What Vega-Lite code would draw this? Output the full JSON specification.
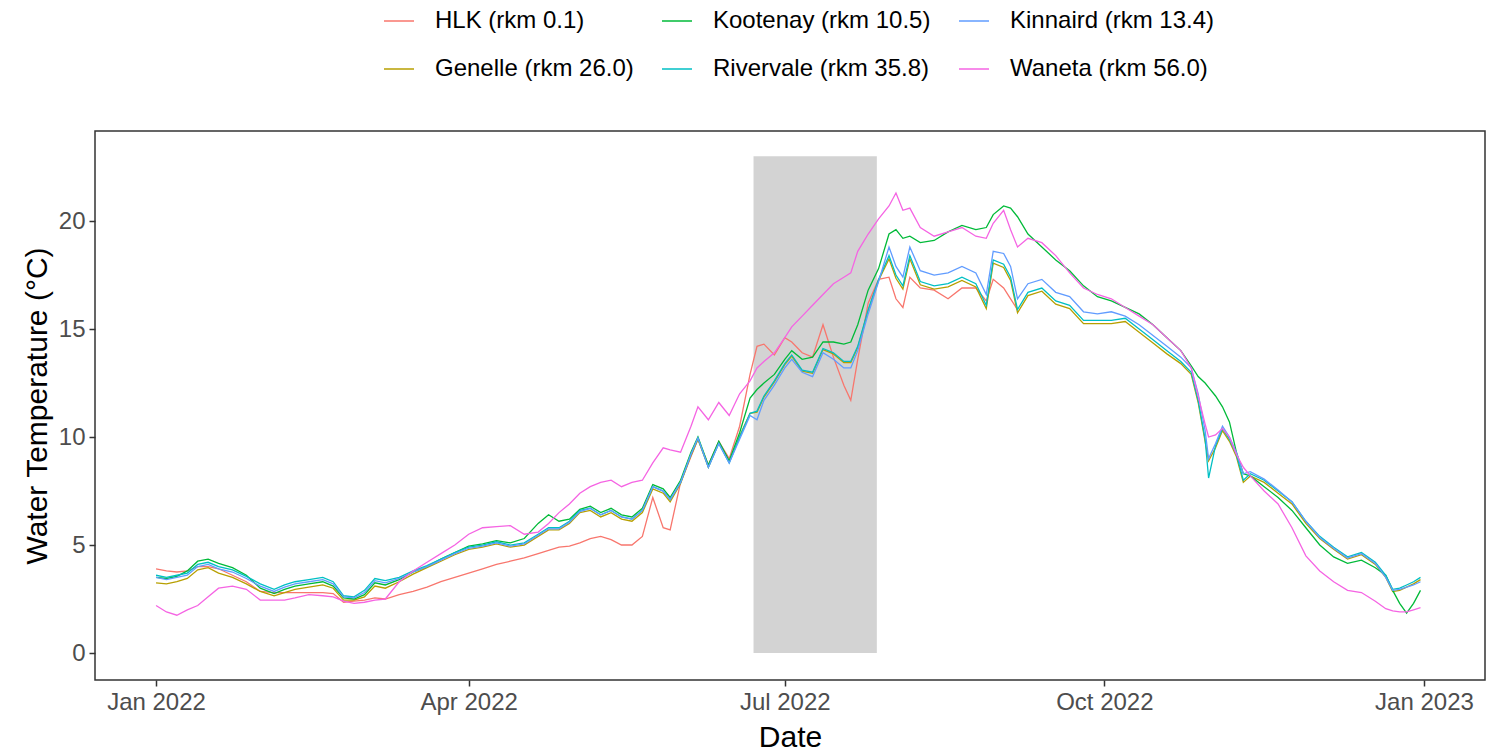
{
"$schema":"https://vega.github.io/schema/vega-lite/v6.json",
"width":1390,"height":549,
"autosize":{"type":"none"},
"padding":{"left":95,"top":131,"right":1,"bottom":72},
"background":"white",
"config":{
"font":"Liberation Sans",
"view":{"stroke":"#333333","strokeWidth":1.5},
"axis":{"grid":false,"domain":false,"tickColor":"#333333","tickWidth":1.5,"tickSize":6,"labelFont":"Liberation Sans","labelFontSize":24,"labelColor":"#4D4D4D","labelPadding":4,"titleFont":"Liberation Sans","titleFontSize":30,"titleFontWeight":"normal","titleColor":"#000000"}
},
"layer":[
{"data":{"values":[{"start":"2022-06-22","end":"2022-07-27T12:00:00","lo":0,"hi":23}]},
"mark":{"type":"rect","color":"#D3D3D3"},
"encoding":{
"x":{"field":"start","type":"temporal","title":"Date","scale":{"domain":[{"year":2021,"month":12,"date":14,"hours":10,"minutes":20},{"year":2023,"month":1,"date":18,"hours":13,"minutes":40}]},"axis":{"values":[{"year":2022,"month":1,"date":1},{"year":2022,"month":4,"date":1},{"year":2022,"month":7,"date":1},{"year":2022,"month":10,"date":1},{"year":2023,"month":1,"date":1}],"format":"%b %Y","titlePadding":8}},
"x2":{"field":"end"},
"y":{"field":"lo","type":"quantitative","title":"Water Temperature (°C)","scale":{"domain":[-1.25,24.17],"nice":false,"zero":false},"axis":{"values":[0,5,10,15,20],"titlePadding":6}},
"y2":{"field":"hi"}}},
{"data":{"values":[
{"d":"2022-01-01","s":"HLK","t":3.9},{"d":"2022-01-04","s":"HLK","t":3.8},{"d":"2022-01-07","s":"HLK","t":3.75},{"d":"2022-01-10","s":"HLK","t":3.8},{"d":"2022-01-13","s":"HLK","t":4.0},{"d":"2022-01-16","s":"HLK","t":4.0},{"d":"2022-01-19","s":"HLK","t":3.9},{"d":"2022-01-23","s":"HLK","t":3.6},{"d":"2022-01-27","s":"HLK","t":3.3},{"d":"2022-01-31","s":"HLK","t":2.85},{"d":"2022-02-04","s":"HLK","t":2.8},{"d":"2022-02-07","s":"HLK","t":2.8},{"d":"2022-02-10","s":"HLK","t":2.8},{"d":"2022-02-14","s":"HLK","t":2.8},{"d":"2022-02-18","s":"HLK","t":2.8},{"d":"2022-02-21","s":"HLK","t":2.75},{"d":"2022-02-24","s":"HLK","t":2.35},{"d":"2022-02-27","s":"HLK","t":2.4},{"d":"2022-03-02","s":"HLK","t":2.45},{"d":"2022-03-05","s":"HLK","t":2.55},{"d":"2022-03-08","s":"HLK","t":2.5},{"d":"2022-03-12","s":"HLK","t":2.7},{"d":"2022-03-16","s":"HLK","t":2.85},{"d":"2022-03-20","s":"HLK","t":3.05},{"d":"2022-03-24","s":"HLK","t":3.3},{"d":"2022-03-28","s":"HLK","t":3.5},{"d":"2022-04-01","s":"HLK","t":3.7},{"d":"2022-04-05","s":"HLK","t":3.9},{"d":"2022-04-09","s":"HLK","t":4.1},{"d":"2022-04-13","s":"HLK","t":4.25},{"d":"2022-04-17","s":"HLK","t":4.4},{"d":"2022-04-21","s":"HLK","t":4.6},{"d":"2022-04-24","s":"HLK","t":4.75},{"d":"2022-04-27","s":"HLK","t":4.9},{"d":"2022-04-30","s":"HLK","t":4.95},{"d":"2022-05-03","s":"HLK","t":5.1},{"d":"2022-05-06","s":"HLK","t":5.3},{"d":"2022-05-09","s":"HLK","t":5.4},{"d":"2022-05-12","s":"HLK","t":5.25},{"d":"2022-05-15","s":"HLK","t":5.0},{"d":"2022-05-18","s":"HLK","t":5.0},{"d":"2022-05-21","s":"HLK","t":5.4},{"d":"2022-05-24","s":"HLK","t":7.2},{"d":"2022-05-27","s":"HLK","t":5.8},{"d":"2022-05-29","s":"HLK","t":5.7},{"d":"2022-06-01","s":"HLK","t":7.9},{"d":"2022-06-04","s":"HLK","t":9.1},{"d":"2022-06-06","s":"HLK","t":9.9},{"d":"2022-06-09","s":"HLK","t":8.7},{"d":"2022-06-12","s":"HLK","t":9.8},{"d":"2022-06-15","s":"HLK","t":9.0},{"d":"2022-06-18","s":"HLK","t":10.5},{"d":"2022-06-21","s":"HLK","t":12.9},{"d":"2022-06-23","s":"HLK","t":14.2},{"d":"2022-06-25","s":"HLK","t":14.3},{"d":"2022-06-28","s":"HLK","t":13.8},{"d":"2022-07-01","s":"HLK","t":14.6},{"d":"2022-07-03","s":"HLK","t":14.4},{"d":"2022-07-06","s":"HLK","t":13.9},{"d":"2022-07-09","s":"HLK","t":13.7},{"d":"2022-07-12","s":"HLK","t":15.2},{"d":"2022-07-15","s":"HLK","t":13.7},{"d":"2022-07-18","s":"HLK","t":12.4},{"d":"2022-07-20","s":"HLK","t":11.7},{"d":"2022-07-22","s":"HLK","t":13.6},{"d":"2022-07-25","s":"HLK","t":16.2},{"d":"2022-07-28","s":"HLK","t":17.3},{"d":"2022-07-31","s":"HLK","t":17.4},{"d":"2022-08-02","s":"HLK","t":16.4},{"d":"2022-08-04","s":"HLK","t":16.0},{"d":"2022-08-06","s":"HLK","t":17.4},{"d":"2022-08-09","s":"HLK","t":16.9},{"d":"2022-08-13","s":"HLK","t":16.8},{"d":"2022-08-17","s":"HLK","t":16.4},{"d":"2022-08-21","s":"HLK","t":16.9},{"d":"2022-08-25","s":"HLK","t":16.9},{"d":"2022-08-28","s":"HLK","t":16.3},{"d":"2022-08-30","s":"HLK","t":17.3},{"d":"2022-09-02","s":"HLK","t":16.9},{"d":"2022-09-04","s":"HLK","t":16.4},{"d":"2022-09-06","s":"HLK","t":15.9},
{"d":"2022-01-01","s":"GEN","t":3.25},{"d":"2022-01-04","s":"GEN","t":3.2},{"d":"2022-01-07","s":"GEN","t":3.3},{"d":"2022-01-10","s":"GEN","t":3.45},{"d":"2022-01-13","s":"GEN","t":3.85},{"d":"2022-01-16","s":"GEN","t":3.95},{"d":"2022-01-19","s":"GEN","t":3.7},{"d":"2022-01-23","s":"GEN","t":3.5},{"d":"2022-01-27","s":"GEN","t":3.2},{"d":"2022-01-31","s":"GEN","t":2.85},{"d":"2022-02-04","s":"GEN","t":2.65},{"d":"2022-02-07","s":"GEN","t":2.8},{"d":"2022-02-10","s":"GEN","t":2.95},{"d":"2022-02-14","s":"GEN","t":3.05},{"d":"2022-02-18","s":"GEN","t":3.15},{"d":"2022-02-21","s":"GEN","t":3.0},{"d":"2022-02-24","s":"GEN","t":2.45},{"d":"2022-02-27","s":"GEN","t":2.45},{"d":"2022-03-02","s":"GEN","t":2.6},{"d":"2022-03-05","s":"GEN","t":3.1},{"d":"2022-03-08","s":"GEN","t":3.0},{"d":"2022-03-12","s":"GEN","t":3.3},{"d":"2022-03-16","s":"GEN","t":3.65},{"d":"2022-03-20","s":"GEN","t":3.95},{"d":"2022-03-24","s":"GEN","t":4.25},{"d":"2022-03-28","s":"GEN","t":4.55},{"d":"2022-04-01","s":"GEN","t":4.8},{"d":"2022-04-05","s":"GEN","t":4.9},{"d":"2022-04-09","s":"GEN","t":5.05},{"d":"2022-04-13","s":"GEN","t":4.9},{"d":"2022-04-17","s":"GEN","t":5.0},{"d":"2022-04-21","s":"GEN","t":5.4},{"d":"2022-04-24","s":"GEN","t":5.7},{"d":"2022-04-27","s":"GEN","t":5.7},{"d":"2022-04-30","s":"GEN","t":6.0},{"d":"2022-05-03","s":"GEN","t":6.5},{"d":"2022-05-06","s":"GEN","t":6.6},{"d":"2022-05-09","s":"GEN","t":6.3},{"d":"2022-05-12","s":"GEN","t":6.5},{"d":"2022-05-15","s":"GEN","t":6.2},{"d":"2022-05-18","s":"GEN","t":6.1},{"d":"2022-05-21","s":"GEN","t":6.5},{"d":"2022-05-24","s":"GEN","t":7.6},{"d":"2022-05-27","s":"GEN","t":7.4},{"d":"2022-05-29","s":"GEN","t":7.0},{"d":"2022-06-01","s":"GEN","t":7.85},{"d":"2022-06-04","s":"GEN","t":9.15},{"d":"2022-06-06","s":"GEN","t":9.9},{"d":"2022-06-09","s":"GEN","t":8.6},{"d":"2022-06-12","s":"GEN","t":9.75},{"d":"2022-06-15","s":"GEN","t":8.85},{"d":"2022-06-18","s":"GEN","t":10.05},{"d":"2022-06-21","s":"GEN","t":11.1},{"d":"2022-06-23","s":"GEN","t":11.15},{"d":"2022-06-25","s":"GEN","t":11.85},{"d":"2022-06-28","s":"GEN","t":12.55},{"d":"2022-07-01","s":"GEN","t":13.35},{"d":"2022-07-03","s":"GEN","t":13.75},{"d":"2022-07-06","s":"GEN","t":13.05},{"d":"2022-07-09","s":"GEN","t":12.95},{"d":"2022-07-12","s":"GEN","t":14.05},{"d":"2022-07-15","s":"GEN","t":13.85},{"d":"2022-07-18","s":"GEN","t":13.45},{"d":"2022-07-20","s":"GEN","t":13.45},{"d":"2022-07-22","s":"GEN","t":14.15},{"d":"2022-07-25","s":"GEN","t":15.85},{"d":"2022-07-28","s":"GEN","t":17.25},{"d":"2022-07-31","s":"GEN","t":18.25},{"d":"2022-08-02","s":"GEN","t":17.35},{"d":"2022-08-04","s":"GEN","t":16.85},{"d":"2022-08-06","s":"GEN","t":18.25},{"d":"2022-08-09","s":"GEN","t":17.05},{"d":"2022-08-13","s":"GEN","t":16.85},{"d":"2022-08-17","s":"GEN","t":16.95},{"d":"2022-08-21","s":"GEN","t":17.25},{"d":"2022-08-25","s":"GEN","t":16.95},{"d":"2022-08-28","s":"GEN","t":15.95},{"d":"2022-08-30","s":"GEN","t":18.05},{"d":"2022-09-02","s":"GEN","t":17.85},{"d":"2022-09-04","s":"GEN","t":17.25},{"d":"2022-09-06","s":"GEN","t":15.75},{"d":"2022-09-09","s":"GEN","t":16.55},{"d":"2022-09-13","s":"GEN","t":16.75},{"d":"2022-09-17","s":"GEN","t":16.15},{"d":"2022-09-21","s":"GEN","t":15.95},{"d":"2022-09-25","s":"GEN","t":15.25},{"d":"2022-09-29","s":"GEN","t":15.25},{"d":"2022-10-03","s":"GEN","t":15.25},{"d":"2022-10-07","s":"GEN","t":15.35},{"d":"2022-10-11","s":"GEN","t":14.85},{"d":"2022-10-15","s":"GEN","t":14.35},{"d":"2022-10-19","s":"GEN","t":13.85},{"d":"2022-10-23","s":"GEN","t":13.4},{"d":"2022-10-26","s":"GEN","t":12.9},{"d":"2022-10-28","s":"GEN","t":11.6},{"d":"2022-10-30","s":"GEN","t":9.8},{"d":"2022-10-31","s":"GEN","t":8.9},{"d":"2022-11-02","s":"GEN","t":9.5},{"d":"2022-11-04","s":"GEN","t":10.3},{"d":"2022-11-06","s":"GEN","t":9.8},{"d":"2022-11-08","s":"GEN","t":9.1},{"d":"2022-11-10","s":"GEN","t":7.9},{"d":"2022-11-12","s":"GEN","t":8.2},{"d":"2022-11-16","s":"GEN","t":7.9},{"d":"2022-11-20","s":"GEN","t":7.4},{"d":"2022-11-24","s":"GEN","t":6.9},{"d":"2022-11-28","s":"GEN","t":6.0},{"d":"2022-12-02","s":"GEN","t":5.3},{"d":"2022-12-06","s":"GEN","t":4.8},{"d":"2022-12-10","s":"GEN","t":4.35},{"d":"2022-12-14","s":"GEN","t":4.55},{"d":"2022-12-18","s":"GEN","t":4.1},{"d":"2022-12-21","s":"GEN","t":3.5},{"d":"2022-12-23","s":"GEN","t":2.85},{"d":"2022-12-25","s":"GEN","t":2.9},{"d":"2022-12-27","s":"GEN","t":3.05},{"d":"2022-12-29","s":"GEN","t":3.2},{"d":"2022-12-31","s":"GEN","t":3.4},
{"d":"2022-01-01","s":"KOO","t":3.5},{"d":"2022-01-04","s":"KOO","t":3.45},{"d":"2022-01-07","s":"KOO","t":3.55},{"d":"2022-01-10","s":"KOO","t":3.8},{"d":"2022-01-13","s":"KOO","t":4.25},{"d":"2022-01-16","s":"KOO","t":4.35},{"d":"2022-01-19","s":"KOO","t":4.15},{"d":"2022-01-23","s":"KOO","t":3.95},{"d":"2022-01-27","s":"KOO","t":3.6},{"d":"2022-01-31","s":"KOO","t":3.0},{"d":"2022-02-04","s":"KOO","t":2.75},{"d":"2022-02-07","s":"KOO","t":2.95},{"d":"2022-02-10","s":"KOO","t":3.1},{"d":"2022-02-14","s":"KOO","t":3.2},{"d":"2022-02-18","s":"KOO","t":3.3},{"d":"2022-02-21","s":"KOO","t":3.1},{"d":"2022-02-24","s":"KOO","t":2.55},{"d":"2022-02-27","s":"KOO","t":2.5},{"d":"2022-03-02","s":"KOO","t":2.7},{"d":"2022-03-05","s":"KOO","t":3.25},{"d":"2022-03-08","s":"KOO","t":3.15},{"d":"2022-03-12","s":"KOO","t":3.4},{"d":"2022-03-16","s":"KOO","t":3.75},{"d":"2022-03-20","s":"KOO","t":4.0},{"d":"2022-03-24","s":"KOO","t":4.35},{"d":"2022-03-28","s":"KOO","t":4.65},{"d":"2022-04-01","s":"KOO","t":4.95},{"d":"2022-04-05","s":"KOO","t":5.05},{"d":"2022-04-09","s":"KOO","t":5.2},{"d":"2022-04-13","s":"KOO","t":5.1},{"d":"2022-04-17","s":"KOO","t":5.3},{"d":"2022-04-21","s":"KOO","t":6.0},{"d":"2022-04-24","s":"KOO","t":6.4},{"d":"2022-04-27","s":"KOO","t":6.1},{"d":"2022-04-30","s":"KOO","t":6.2},{"d":"2022-05-03","s":"KOO","t":6.65},{"d":"2022-05-06","s":"KOO","t":6.8},{"d":"2022-05-09","s":"KOO","t":6.5},{"d":"2022-05-12","s":"KOO","t":6.7},{"d":"2022-05-15","s":"KOO","t":6.4},{"d":"2022-05-18","s":"KOO","t":6.3},{"d":"2022-05-21","s":"KOO","t":6.7},{"d":"2022-05-24","s":"KOO","t":7.8},{"d":"2022-05-27","s":"KOO","t":7.6},{"d":"2022-05-29","s":"KOO","t":7.2},{"d":"2022-06-01","s":"KOO","t":8.0},{"d":"2022-06-04","s":"KOO","t":9.3},{"d":"2022-06-06","s":"KOO","t":10.0},{"d":"2022-06-09","s":"KOO","t":8.7},{"d":"2022-06-12","s":"KOO","t":9.8},{"d":"2022-06-15","s":"KOO","t":8.9},{"d":"2022-06-18","s":"KOO","t":10.2},{"d":"2022-06-21","s":"KOO","t":11.8},{"d":"2022-06-23","s":"KOO","t":12.2},{"d":"2022-06-25","s":"KOO","t":12.5},{"d":"2022-06-28","s":"KOO","t":12.9},{"d":"2022-07-01","s":"KOO","t":13.6},{"d":"2022-07-03","s":"KOO","t":14.0},{"d":"2022-07-06","s":"KOO","t":13.6},{"d":"2022-07-09","s":"KOO","t":13.7},{"d":"2022-07-12","s":"KOO","t":14.4},{"d":"2022-07-15","s":"KOO","t":14.4},{"d":"2022-07-18","s":"KOO","t":14.3},{"d":"2022-07-20","s":"KOO","t":14.4},{"d":"2022-07-22","s":"KOO","t":15.2},{"d":"2022-07-25","s":"KOO","t":16.8},{"d":"2022-07-28","s":"KOO","t":17.8},{"d":"2022-07-31","s":"KOO","t":19.4},{"d":"2022-08-02","s":"KOO","t":19.6},{"d":"2022-08-04","s":"KOO","t":19.2},{"d":"2022-08-06","s":"KOO","t":19.3},{"d":"2022-08-09","s":"KOO","t":19.0},{"d":"2022-08-13","s":"KOO","t":19.1},{"d":"2022-08-17","s":"KOO","t":19.5},{"d":"2022-08-21","s":"KOO","t":19.8},{"d":"2022-08-25","s":"KOO","t":19.6},{"d":"2022-08-28","s":"KOO","t":19.7},{"d":"2022-08-30","s":"KOO","t":20.3},{"d":"2022-09-02","s":"KOO","t":20.7},{"d":"2022-09-04","s":"KOO","t":20.6},{"d":"2022-09-06","s":"KOO","t":20.2},{"d":"2022-09-09","s":"KOO","t":19.4},{"d":"2022-09-13","s":"KOO","t":18.8},{"d":"2022-09-17","s":"KOO","t":18.2},{"d":"2022-09-21","s":"KOO","t":17.7},{"d":"2022-09-25","s":"KOO","t":17.0},{"d":"2022-09-29","s":"KOO","t":16.5},{"d":"2022-10-03","s":"KOO","t":16.3},{"d":"2022-10-07","s":"KOO","t":16.0},{"d":"2022-10-11","s":"KOO","t":15.7},{"d":"2022-10-15","s":"KOO","t":15.2},{"d":"2022-10-19","s":"KOO","t":14.6},{"d":"2022-10-23","s":"KOO","t":14.0},{"d":"2022-10-26","s":"KOO","t":13.3},{"d":"2022-10-28","s":"KOO","t":12.8},{"d":"2022-10-30","s":"KOO","t":12.5},{"d":"2022-10-31","s":"KOO","t":12.3},{"d":"2022-11-02","s":"KOO","t":11.9},{"d":"2022-11-04","s":"KOO","t":11.4},{"d":"2022-11-06","s":"KOO","t":10.7},{"d":"2022-11-08","s":"KOO","t":9.3},{"d":"2022-11-10","s":"KOO","t":8.3},{"d":"2022-11-12","s":"KOO","t":8.2},{"d":"2022-11-16","s":"KOO","t":7.7},{"d":"2022-11-20","s":"KOO","t":7.2},{"d":"2022-11-24","s":"KOO","t":6.6},{"d":"2022-11-28","s":"KOO","t":5.8},{"d":"2022-12-02","s":"KOO","t":5.0},{"d":"2022-12-06","s":"KOO","t":4.45},{"d":"2022-12-10","s":"KOO","t":4.15},{"d":"2022-12-14","s":"KOO","t":4.3},{"d":"2022-12-18","s":"KOO","t":3.95},{"d":"2022-12-21","s":"KOO","t":3.6},{"d":"2022-12-23","s":"KOO","t":2.9},{"d":"2022-12-25","s":"KOO","t":2.3},{"d":"2022-12-27","s":"KOO","t":1.85},{"d":"2022-12-29","s":"KOO","t":2.3},{"d":"2022-12-31","s":"KOO","t":2.9},
{"d":"2022-01-01","s":"RIV","t":3.6},{"d":"2022-01-04","s":"RIV","t":3.5},{"d":"2022-01-07","s":"RIV","t":3.6},{"d":"2022-01-10","s":"RIV","t":3.7},{"d":"2022-01-13","s":"RIV","t":4.1},{"d":"2022-01-16","s":"RIV","t":4.2},{"d":"2022-01-19","s":"RIV","t":4.0},{"d":"2022-01-23","s":"RIV","t":3.85},{"d":"2022-01-27","s":"RIV","t":3.55},{"d":"2022-01-31","s":"RIV","t":3.2},{"d":"2022-02-04","s":"RIV","t":2.95},{"d":"2022-02-07","s":"RIV","t":3.15},{"d":"2022-02-10","s":"RIV","t":3.3},{"d":"2022-02-14","s":"RIV","t":3.4},{"d":"2022-02-18","s":"RIV","t":3.5},{"d":"2022-02-21","s":"RIV","t":3.3},{"d":"2022-02-24","s":"RIV","t":2.65},{"d":"2022-02-27","s":"RIV","t":2.6},{"d":"2022-03-02","s":"RIV","t":2.9},{"d":"2022-03-05","s":"RIV","t":3.45},{"d":"2022-03-08","s":"RIV","t":3.35},{"d":"2022-03-12","s":"RIV","t":3.5},{"d":"2022-03-16","s":"RIV","t":3.8},{"d":"2022-03-20","s":"RIV","t":4.05},{"d":"2022-03-24","s":"RIV","t":4.35},{"d":"2022-03-28","s":"RIV","t":4.65},{"d":"2022-04-01","s":"RIV","t":4.9},{"d":"2022-04-05","s":"RIV","t":5.0},{"d":"2022-04-09","s":"RIV","t":5.15},{"d":"2022-04-13","s":"RIV","t":5.0},{"d":"2022-04-17","s":"RIV","t":5.1},{"d":"2022-04-21","s":"RIV","t":5.5},{"d":"2022-04-24","s":"RIV","t":5.8},{"d":"2022-04-27","s":"RIV","t":5.8},{"d":"2022-04-30","s":"RIV","t":6.1},{"d":"2022-05-03","s":"RIV","t":6.6},{"d":"2022-05-06","s":"RIV","t":6.7},{"d":"2022-05-09","s":"RIV","t":6.4},{"d":"2022-05-12","s":"RIV","t":6.6},{"d":"2022-05-15","s":"RIV","t":6.3},{"d":"2022-05-18","s":"RIV","t":6.2},{"d":"2022-05-21","s":"RIV","t":6.6},{"d":"2022-05-24","s":"RIV","t":7.7},{"d":"2022-05-27","s":"RIV","t":7.5},{"d":"2022-05-29","s":"RIV","t":7.1},{"d":"2022-06-01","s":"RIV","t":7.9},{"d":"2022-06-04","s":"RIV","t":9.2},{"d":"2022-06-06","s":"RIV","t":9.95},{"d":"2022-06-09","s":"RIV","t":8.6},{"d":"2022-06-12","s":"RIV","t":9.7},{"d":"2022-06-15","s":"RIV","t":8.8},{"d":"2022-06-18","s":"RIV","t":10.0},{"d":"2022-06-21","s":"RIV","t":11.1},{"d":"2022-06-23","s":"RIV","t":11.2},{"d":"2022-06-25","s":"RIV","t":11.9},{"d":"2022-06-28","s":"RIV","t":12.6},{"d":"2022-07-01","s":"RIV","t":13.4},{"d":"2022-07-03","s":"RIV","t":13.8},{"d":"2022-07-06","s":"RIV","t":13.1},{"d":"2022-07-09","s":"RIV","t":13.0},{"d":"2022-07-12","s":"RIV","t":14.1},{"d":"2022-07-15","s":"RIV","t":13.9},{"d":"2022-07-18","s":"RIV","t":13.5},{"d":"2022-07-20","s":"RIV","t":13.5},{"d":"2022-07-22","s":"RIV","t":14.2},{"d":"2022-07-25","s":"RIV","t":15.9},{"d":"2022-07-28","s":"RIV","t":17.3},{"d":"2022-07-31","s":"RIV","t":18.4},{"d":"2022-08-02","s":"RIV","t":17.5},{"d":"2022-08-04","s":"RIV","t":17.0},{"d":"2022-08-06","s":"RIV","t":18.4},{"d":"2022-08-09","s":"RIV","t":17.2},{"d":"2022-08-13","s":"RIV","t":17.0},{"d":"2022-08-17","s":"RIV","t":17.1},{"d":"2022-08-21","s":"RIV","t":17.4},{"d":"2022-08-25","s":"RIV","t":17.1},{"d":"2022-08-28","s":"RIV","t":16.1},{"d":"2022-08-30","s":"RIV","t":18.2},{"d":"2022-09-02","s":"RIV","t":18.0},{"d":"2022-09-04","s":"RIV","t":17.4},{"d":"2022-09-06","s":"RIV","t":15.9},{"d":"2022-09-09","s":"RIV","t":16.7},{"d":"2022-09-13","s":"RIV","t":16.9},{"d":"2022-09-17","s":"RIV","t":16.3},{"d":"2022-09-21","s":"RIV","t":16.1},{"d":"2022-09-25","s":"RIV","t":15.4},{"d":"2022-09-29","s":"RIV","t":15.4},{"d":"2022-10-03","s":"RIV","t":15.4},{"d":"2022-10-07","s":"RIV","t":15.5},{"d":"2022-10-11","s":"RIV","t":15.0},{"d":"2022-10-15","s":"RIV","t":14.5},{"d":"2022-10-19","s":"RIV","t":14.0},{"d":"2022-10-23","s":"RIV","t":13.5},{"d":"2022-10-26","s":"RIV","t":13.0},{"d":"2022-10-28","s":"RIV","t":11.7},{"d":"2022-10-30","s":"RIV","t":9.9},{"d":"2022-10-31","s":"RIV","t":8.1},{"d":"2022-11-02","s":"RIV","t":9.6},{"d":"2022-11-04","s":"RIV","t":10.4},{"d":"2022-11-06","s":"RIV","t":9.9},{"d":"2022-11-08","s":"RIV","t":9.2},{"d":"2022-11-10","s":"RIV","t":8.0},{"d":"2022-11-12","s":"RIV","t":8.3},{"d":"2022-11-16","s":"RIV","t":8.0},{"d":"2022-11-20","s":"RIV","t":7.5},{"d":"2022-11-24","s":"RIV","t":7.0},{"d":"2022-11-28","s":"RIV","t":6.1},{"d":"2022-12-02","s":"RIV","t":5.4},{"d":"2022-12-06","s":"RIV","t":4.9},{"d":"2022-12-10","s":"RIV","t":4.45},{"d":"2022-12-14","s":"RIV","t":4.65},{"d":"2022-12-18","s":"RIV","t":4.2},{"d":"2022-12-21","s":"RIV","t":3.6},{"d":"2022-12-23","s":"RIV","t":2.95},{"d":"2022-12-25","s":"RIV","t":3.0},{"d":"2022-12-27","s":"RIV","t":3.15},{"d":"2022-12-29","s":"RIV","t":3.3},{"d":"2022-12-31","s":"RIV","t":3.5},
{"d":"2022-01-01","s":"KIN","t":3.5},{"d":"2022-01-04","s":"KIN","t":3.4},{"d":"2022-01-07","s":"KIN","t":3.5},{"d":"2022-01-10","s":"KIN","t":3.6},{"d":"2022-01-13","s":"KIN","t":4.0},{"d":"2022-01-16","s":"KIN","t":4.1},{"d":"2022-01-19","s":"KIN","t":3.9},{"d":"2022-01-23","s":"KIN","t":3.75},{"d":"2022-01-27","s":"KIN","t":3.45},{"d":"2022-01-31","s":"KIN","t":3.1},{"d":"2022-02-04","s":"KIN","t":2.85},{"d":"2022-02-07","s":"KIN","t":3.05},{"d":"2022-02-10","s":"KIN","t":3.2},{"d":"2022-02-14","s":"KIN","t":3.3},{"d":"2022-02-18","s":"KIN","t":3.4},{"d":"2022-02-21","s":"KIN","t":3.2},{"d":"2022-02-24","s":"KIN","t":2.6},{"d":"2022-02-27","s":"KIN","t":2.55},{"d":"2022-03-02","s":"KIN","t":2.8},{"d":"2022-03-05","s":"KIN","t":3.35},{"d":"2022-03-08","s":"KIN","t":3.25},{"d":"2022-03-12","s":"KIN","t":3.45},{"d":"2022-03-16","s":"KIN","t":3.75},{"d":"2022-03-20","s":"KIN","t":4.0},{"d":"2022-03-24","s":"KIN","t":4.3},{"d":"2022-03-28","s":"KIN","t":4.6},{"d":"2022-04-01","s":"KIN","t":4.85},{"d":"2022-04-05","s":"KIN","t":4.95},{"d":"2022-04-09","s":"KIN","t":5.1},{"d":"2022-04-13","s":"KIN","t":4.95},{"d":"2022-04-17","s":"KIN","t":5.05},{"d":"2022-04-21","s":"KIN","t":5.45},{"d":"2022-04-24","s":"KIN","t":5.75},{"d":"2022-04-27","s":"KIN","t":5.75},{"d":"2022-04-30","s":"KIN","t":6.05},{"d":"2022-05-03","s":"KIN","t":6.55},{"d":"2022-05-06","s":"KIN","t":6.7},{"d":"2022-05-09","s":"KIN","t":6.4},{"d":"2022-05-12","s":"KIN","t":6.6},{"d":"2022-05-15","s":"KIN","t":6.3},{"d":"2022-05-18","s":"KIN","t":6.2},{"d":"2022-05-21","s":"KIN","t":6.6},{"d":"2022-05-24","s":"KIN","t":7.7},{"d":"2022-05-27","s":"KIN","t":7.5},{"d":"2022-05-29","s":"KIN","t":7.1},{"d":"2022-06-01","s":"KIN","t":7.9},{"d":"2022-06-04","s":"KIN","t":9.2},{"d":"2022-06-06","s":"KIN","t":9.95},{"d":"2022-06-09","s":"KIN","t":8.6},{"d":"2022-06-12","s":"KIN","t":9.7},{"d":"2022-06-15","s":"KIN","t":8.8},{"d":"2022-06-18","s":"KIN","t":9.9},{"d":"2022-06-21","s":"KIN","t":11.0},{"d":"2022-06-23","s":"KIN","t":10.8},{"d":"2022-06-25","s":"KIN","t":11.7},{"d":"2022-06-28","s":"KIN","t":12.4},{"d":"2022-07-01","s":"KIN","t":13.2},{"d":"2022-07-03","s":"KIN","t":13.6},{"d":"2022-07-06","s":"KIN","t":13.0},{"d":"2022-07-09","s":"KIN","t":12.8},{"d":"2022-07-12","s":"KIN","t":13.9},{"d":"2022-07-15","s":"KIN","t":13.6},{"d":"2022-07-18","s":"KIN","t":13.2},{"d":"2022-07-20","s":"KIN","t":13.2},{"d":"2022-07-22","s":"KIN","t":14.0},{"d":"2022-07-25","s":"KIN","t":15.7},{"d":"2022-07-28","s":"KIN","t":17.2},{"d":"2022-07-31","s":"KIN","t":18.8},{"d":"2022-08-02","s":"KIN","t":17.9},{"d":"2022-08-04","s":"KIN","t":17.4},{"d":"2022-08-06","s":"KIN","t":18.8},{"d":"2022-08-09","s":"KIN","t":17.7},{"d":"2022-08-13","s":"KIN","t":17.5},{"d":"2022-08-17","s":"KIN","t":17.6},{"d":"2022-08-21","s":"KIN","t":17.9},{"d":"2022-08-25","s":"KIN","t":17.6},{"d":"2022-08-28","s":"KIN","t":16.6},{"d":"2022-08-30","s":"KIN","t":18.6},{"d":"2022-09-02","s":"KIN","t":18.5},{"d":"2022-09-04","s":"KIN","t":17.9},{"d":"2022-09-06","s":"KIN","t":16.4},{"d":"2022-09-09","s":"KIN","t":17.1},{"d":"2022-09-13","s":"KIN","t":17.3},{"d":"2022-09-17","s":"KIN","t":16.7},{"d":"2022-09-21","s":"KIN","t":16.5},{"d":"2022-09-25","s":"KIN","t":15.8},{"d":"2022-09-29","s":"KIN","t":15.7},{"d":"2022-10-03","s":"KIN","t":15.8},{"d":"2022-10-07","s":"KIN","t":15.6},{"d":"2022-10-11","s":"KIN","t":15.2},{"d":"2022-10-15","s":"KIN","t":14.7},{"d":"2022-10-19","s":"KIN","t":14.2},{"d":"2022-10-23","s":"KIN","t":13.7},{"d":"2022-10-26","s":"KIN","t":13.2},{"d":"2022-10-28","s":"KIN","t":12.0},{"d":"2022-10-30","s":"KIN","t":10.3},{"d":"2022-10-31","s":"KIN","t":9.0},{"d":"2022-11-02","s":"KIN","t":9.7},{"d":"2022-11-04","s":"KIN","t":10.5},{"d":"2022-11-06","s":"KIN","t":10.0},{"d":"2022-11-08","s":"KIN","t":9.3},{"d":"2022-11-10","s":"KIN","t":8.3},{"d":"2022-11-12","s":"KIN","t":8.4},{"d":"2022-11-16","s":"KIN","t":8.05},{"d":"2022-11-20","s":"KIN","t":7.55},{"d":"2022-11-24","s":"KIN","t":7.0},{"d":"2022-11-28","s":"KIN","t":6.1},{"d":"2022-12-02","s":"KIN","t":5.35},{"d":"2022-12-06","s":"KIN","t":4.85},{"d":"2022-12-10","s":"KIN","t":4.4},{"d":"2022-12-14","s":"KIN","t":4.6},{"d":"2022-12-18","s":"KIN","t":4.15},{"d":"2022-12-21","s":"KIN","t":3.5},{"d":"2022-12-23","s":"KIN","t":2.9},{"d":"2022-12-25","s":"KIN","t":2.95},{"d":"2022-12-27","s":"KIN","t":3.05},{"d":"2022-12-29","s":"KIN","t":3.15},{"d":"2022-12-31","s":"KIN","t":3.3},
{"d":"2022-01-01","s":"WAN","t":2.2},{"d":"2022-01-04","s":"WAN","t":1.9},{"d":"2022-01-07","s":"WAN","t":1.75},{"d":"2022-01-10","s":"WAN","t":2.0},{"d":"2022-01-13","s":"WAN","t":2.2},{"d":"2022-01-16","s":"WAN","t":2.6},{"d":"2022-01-19","s":"WAN","t":3.0},{"d":"2022-01-23","s":"WAN","t":3.1},{"d":"2022-01-27","s":"WAN","t":2.95},{"d":"2022-01-31","s":"WAN","t":2.45},{"d":"2022-02-04","s":"WAN","t":2.45},{"d":"2022-02-07","s":"WAN","t":2.45},{"d":"2022-02-10","s":"WAN","t":2.55},{"d":"2022-02-14","s":"WAN","t":2.7},{"d":"2022-02-18","s":"WAN","t":2.65},{"d":"2022-02-21","s":"WAN","t":2.6},{"d":"2022-02-24","s":"WAN","t":2.4},{"d":"2022-02-27","s":"WAN","t":2.3},{"d":"2022-03-02","s":"WAN","t":2.35},{"d":"2022-03-05","s":"WAN","t":2.45},{"d":"2022-03-08","s":"WAN","t":2.5},{"d":"2022-03-12","s":"WAN","t":3.3},{"d":"2022-03-16","s":"WAN","t":3.8},{"d":"2022-03-20","s":"WAN","t":4.2},{"d":"2022-03-24","s":"WAN","t":4.6},{"d":"2022-03-28","s":"WAN","t":5.0},{"d":"2022-04-01","s":"WAN","t":5.5},{"d":"2022-04-05","s":"WAN","t":5.8},{"d":"2022-04-09","s":"WAN","t":5.85},{"d":"2022-04-13","s":"WAN","t":5.9},{"d":"2022-04-17","s":"WAN","t":5.5},{"d":"2022-04-21","s":"WAN","t":5.6},{"d":"2022-04-24","s":"WAN","t":6.0},{"d":"2022-04-27","s":"WAN","t":6.5},{"d":"2022-04-30","s":"WAN","t":6.9},{"d":"2022-05-03","s":"WAN","t":7.4},{"d":"2022-05-06","s":"WAN","t":7.7},{"d":"2022-05-09","s":"WAN","t":7.9},{"d":"2022-05-12","s":"WAN","t":8.0},{"d":"2022-05-15","s":"WAN","t":7.7},{"d":"2022-05-18","s":"WAN","t":7.9},{"d":"2022-05-21","s":"WAN","t":8.0},{"d":"2022-05-24","s":"WAN","t":8.8},{"d":"2022-05-27","s":"WAN","t":9.5},{"d":"2022-05-29","s":"WAN","t":9.4},{"d":"2022-06-01","s":"WAN","t":9.3},{"d":"2022-06-04","s":"WAN","t":10.5},{"d":"2022-06-06","s":"WAN","t":11.4},{"d":"2022-06-09","s":"WAN","t":10.8},{"d":"2022-06-12","s":"WAN","t":11.6},{"d":"2022-06-15","s":"WAN","t":11.0},{"d":"2022-06-18","s":"WAN","t":12.0},{"d":"2022-06-21","s":"WAN","t":12.6},{"d":"2022-06-23","s":"WAN","t":13.2},{"d":"2022-06-25","s":"WAN","t":13.5},{"d":"2022-06-28","s":"WAN","t":13.9},{"d":"2022-07-01","s":"WAN","t":14.6},{"d":"2022-07-03","s":"WAN","t":15.1},{"d":"2022-07-06","s":"WAN","t":15.6},{"d":"2022-07-09","s":"WAN","t":16.1},{"d":"2022-07-12","s":"WAN","t":16.6},{"d":"2022-07-15","s":"WAN","t":17.1},{"d":"2022-07-18","s":"WAN","t":17.4},{"d":"2022-07-20","s":"WAN","t":17.6},{"d":"2022-07-22","s":"WAN","t":18.6},{"d":"2022-07-25","s":"WAN","t":19.4},{"d":"2022-07-28","s":"WAN","t":20.1},{"d":"2022-07-31","s":"WAN","t":20.7},{"d":"2022-08-02","s":"WAN","t":21.3},{"d":"2022-08-04","s":"WAN","t":20.5},{"d":"2022-08-06","s":"WAN","t":20.6},{"d":"2022-08-09","s":"WAN","t":19.7},{"d":"2022-08-13","s":"WAN","t":19.3},{"d":"2022-08-17","s":"WAN","t":19.5},{"d":"2022-08-21","s":"WAN","t":19.7},{"d":"2022-08-25","s":"WAN","t":19.3},{"d":"2022-08-28","s":"WAN","t":19.2},{"d":"2022-08-30","s":"WAN","t":19.9},{"d":"2022-09-02","s":"WAN","t":20.5},{"d":"2022-09-04","s":"WAN","t":19.6},{"d":"2022-09-06","s":"WAN","t":18.8},{"d":"2022-09-09","s":"WAN","t":19.2},{"d":"2022-09-13","s":"WAN","t":19.0},{"d":"2022-09-17","s":"WAN","t":18.4},{"d":"2022-09-21","s":"WAN","t":17.6},{"d":"2022-09-25","s":"WAN","t":16.9},{"d":"2022-09-29","s":"WAN","t":16.6},{"d":"2022-10-03","s":"WAN","t":16.4},{"d":"2022-10-07","s":"WAN","t":16.0},{"d":"2022-10-11","s":"WAN","t":15.6},{"d":"2022-10-15","s":"WAN","t":15.2},{"d":"2022-10-19","s":"WAN","t":14.6},{"d":"2022-10-23","s":"WAN","t":14.0},{"d":"2022-10-26","s":"WAN","t":13.2},{"d":"2022-10-28","s":"WAN","t":11.9},{"d":"2022-10-30","s":"WAN","t":10.6},{"d":"2022-10-31","s":"WAN","t":10.0},{"d":"2022-11-02","s":"WAN","t":10.1},{"d":"2022-11-04","s":"WAN","t":10.4},{"d":"2022-11-06","s":"WAN","t":10.0},{"d":"2022-11-08","s":"WAN","t":9.2},{"d":"2022-11-10","s":"WAN","t":8.6},{"d":"2022-11-12","s":"WAN","t":8.2},{"d":"2022-11-16","s":"WAN","t":7.5},{"d":"2022-11-20","s":"WAN","t":6.9},{"d":"2022-11-24","s":"WAN","t":5.8},{"d":"2022-11-28","s":"WAN","t":4.5},{"d":"2022-12-02","s":"WAN","t":3.8},{"d":"2022-12-06","s":"WAN","t":3.3},{"d":"2022-12-10","s":"WAN","t":2.9},{"d":"2022-12-14","s":"WAN","t":2.8},{"d":"2022-12-18","s":"WAN","t":2.4},{"d":"2022-12-21","s":"WAN","t":2.05},{"d":"2022-12-23","s":"WAN","t":1.95},{"d":"2022-12-25","s":"WAN","t":1.9},{"d":"2022-12-27","s":"WAN","t":1.9},{"d":"2022-12-29","s":"WAN","t":2.0},{"d":"2022-12-31","s":"WAN","t":2.1}
]},
"mark":{"type":"line","strokeWidth":1.3},
"encoding":{
"x":{"field":"d","type":"temporal","title":"Date"},
"y":{"field":"t","type":"quantitative","title":"Water Temperature (°C)"},
"color":{"field":"s","type":"nominal","scale":{"domain":["HLK","KOO","KIN","GEN","RIV","WAN"],"range":["#F8766D","#00BA38","#619CFF","#B79F00","#00BFC4","#F564E3"]},
"legend":{"orient":"none","legendX":288,"legendY":-126,"direction":"horizontal","columns":3,"title":null,"labelFont":"Liberation Sans","labelFontSize":24,"labelColor":"#000000","labelLimit":400,"symbolType":"stroke","symbolSize":900,"symbolStrokeWidth":1.5,"labelOffset":20,"columnPadding":25,"rowPadding":20,
"labelExpr":"datum.label == 'HLK' ? 'HLK (rkm 0.1)' : datum.label == 'KOO' ? 'Kootenay (rkm 10.5)' : datum.label == 'KIN' ? 'Kinnaird (rkm 13.4)' : datum.label == 'GEN' ? 'Genelle (rkm 26.0)' : datum.label == 'RIV' ? 'Rivervale (rkm 35.8)' : 'Waneta (rkm 56.0)'"}}}}
]
}
